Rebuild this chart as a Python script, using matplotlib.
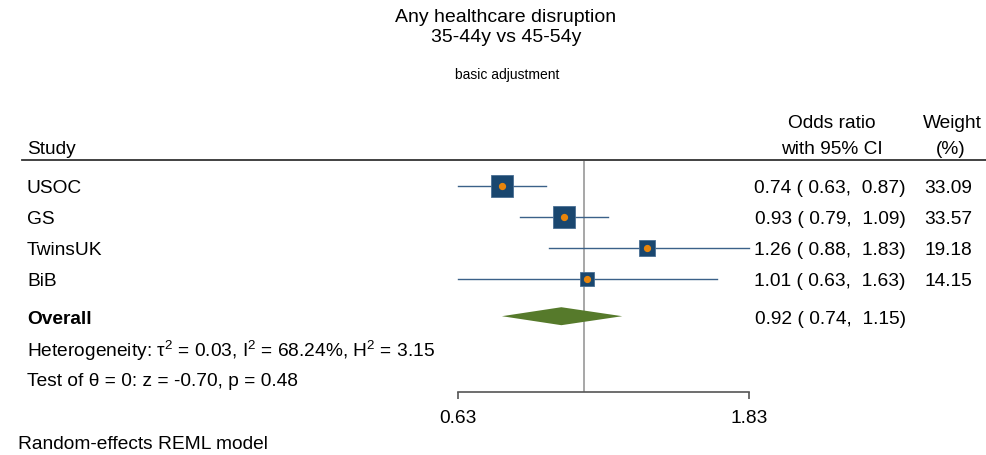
import numpy as np
import matplotlib
matplotlib.use("Agg")
import matplotlib.pyplot as plt
import matplotlib.transforms as mtransforms
from matplotlib.lines import Line2D

plt.rcParams["font.family"] = ["Liberation Sans", "DejaVu Sans"]
plt.rcParams["mathtext.fontset"] = "custom"
plt.rcParams["mathtext.rm"] = "Liberation Sans"
plt.rcParams["mathtext.it"] = "Liberation Sans"

# ── Data ─────────────────────────────────────────────────────────────────────
studies = ["USOC", "GS", "TwinsUK", "BiB"]
odds = [0.74, 0.93, 1.26, 1.01]
lower = [0.63, 0.79, 0.88, 0.63]
upper = [0.87, 1.09, 1.83, 1.63]
weights = [33.09, 33.57, 19.18, 14.15]
overall_est, overall_lo, overall_hi = 0.92, 0.74, 1.15
het_text = r"Heterogeneity: τ$^2$ = 0.03, I$^2$ = 68.24%, H$^2$ = 3.15"
test_text = "Test of θ = 0: z = -0.70, p = 0.48"
xticks = [0.63, 1.83]

# row positions (one unit per study line)
rows = [0, 1, 2, 3]
row_overall = 4.2
row_het = 5.2
row_test = 6.2

NAVY = "#1a476f"
ORANGE = "#e8850c"
GREEN = "#567a2b"
FS = 13.8

W, H = 986, 456
fig = plt.figure(figsize=(W / 100, H / 100), dpi=100)

# plot region: x 458..749 px, y 162..393 px
ax = fig.add_axes([458 / W, (H - 393) / H, (749 - 458) / W, (393 - 162) / H])
ax.set_xscale("log")
ax.set_xlim(xticks[0], xticks[1])
ax.set_ylim(6.645, -0.806)

# CIs, weighted squares, point estimates
for y, o, lo, hi, w in zip(rows, odds, lower, upper, weights):
    ax.plot([lo, hi], [y, y], color="#3b6189", lw=1.0, zorder=2, clip_on=False)
    ax.plot(o, y, marker="s", ms=2.75 * np.sqrt(w), color=NAVY,
            mec="#4a6f94", mew=0.6, zorder=3, clip_on=False)
    ax.plot(o, y, marker="o", ms=4.2, color=ORANGE, mec=ORANGE, zorder=4)

# overall diamond
ax.fill([overall_lo, overall_est, overall_hi, overall_est],
        [row_overall, row_overall - 0.29, row_overall, row_overall + 0.29],
        color=GREEN, lw=0, zorder=3)

# null line
ax.axvline(1.0, color="#a0a0a0", lw=1.3, zorder=1)

# axis
for s in ["top", "left", "right"]:
    ax.spines[s].set_visible(False)
ax.spines["bottom"].set_color("#555555")
ax.spines["bottom"].set_linewidth(1.2)
ax.set_yticks([])
ax.xaxis.set_minor_locator(matplotlib.ticker.NullLocator())
ax.set_xticks(xticks)
ax.set_xticklabels([f"{t:.2f}" for t in xticks], fontsize=FS)
ax.tick_params(axis="x", length=5, width=1.2, color="#555555", pad=7)

# text columns
tr = mtransforms.blended_transform_factory(fig.transFigure, ax.transData)
VA = "center_baseline"
xl = 27 / W
for y, name in zip(rows, studies):
    ax.text(xl, y, name, transform=tr, fontsize=FS, va=VA, ha="left")
ax.text(xl, row_overall, "Overall", transform=tr, fontsize=FS, fontweight="bold",
        va=VA, ha="left")
ax.text(xl, row_het, het_text, transform=tr, fontsize=FS, va=VA, ha="left")
ax.text(xl, row_test, test_text, transform=tr, fontsize=FS, va=VA, ha="left")

x_or = 906 / W
x_w = 972 / W
for y, o, lo, hi, w in zip(rows, odds, lower, upper, weights):
    ax.text(x_or, y, f"{o:.2f} ( {lo:.2f},  {hi:.2f})", transform=tr, fontsize=FS,
            va=VA, ha="right")
    ax.text(x_w, y, f"{w:.2f}", transform=tr, fontsize=FS, va=VA, ha="right")
ax.text(x_or, row_overall, f"{overall_est:.2f} ( {overall_lo:.2f},  {overall_hi:.2f})",
        transform=tr, fontsize=FS, va=VA, ha="right")

# headers
fig.text(27 / W, 1 - 148 / H, "Study", fontsize=FS, va=VA, ha="left")
fig.text(832 / W, 1 - 122 / H, "Odds ratio", fontsize=FS, va=VA, ha="center")
fig.text(832 / W, 1 - 148 / H, "with 95% CI", fontsize=FS, va=VA, ha="center")
fig.text(952 / W, 1 - 122 / H, "Weight", fontsize=FS, va=VA, ha="center")
fig.text(951 / W, 1 - 148 / H, "(%)", fontsize=FS, va=VA, ha="center")
fig.add_artist(Line2D([22 / W, 1.0], [1 - 161 / H, 1 - 161 / H], color="#333333", lw=1.3))

# titles
fig.text(506 / W, 1 - 18 / H, "Any healthcare disruption", fontsize=14, va="center", ha="center")
fig.text(506 / W, 1 - 38 / H, "35-44y vs 45-54y", fontsize=14, va="center", ha="center")
fig.text(507 / W, 1 - 75 / H, "basic adjustment", fontsize=10, va="center", ha="center")
fig.text(18 / W, 1 - 443 / H, "Random-effects REML model", fontsize=FS, va=VA, ha="left")

fig.savefig("out.png", dpi=100)
